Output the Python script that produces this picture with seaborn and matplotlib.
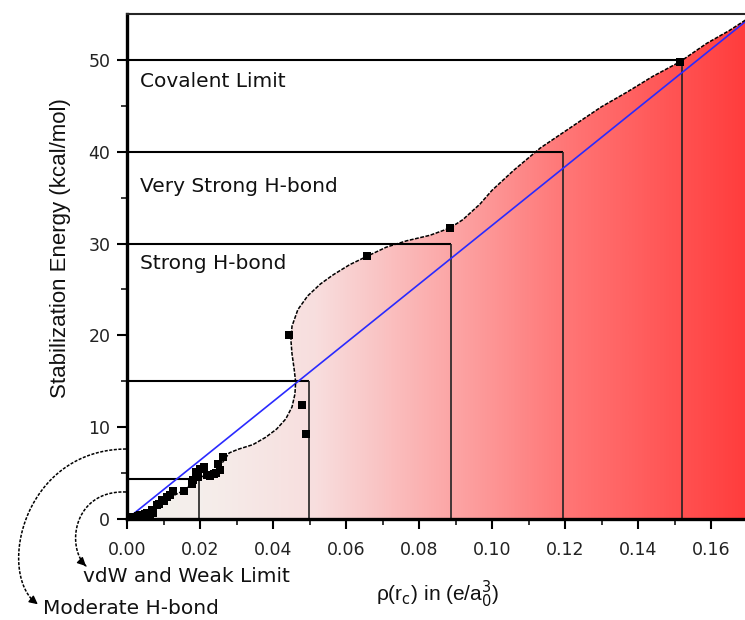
import numpy as np
import matplotlib
matplotlib.use("Agg")
import matplotlib.pyplot as plt
import seaborn as sns
import pandas as pd
from matplotlib.patches import Polygon, FancyArrowPatch
from matplotlib.colors import LinearSegmentedColormap
from matplotlib.lines import Line2D

# ---------------- data ----------------
pts_x = [0.0012, 0.0017, 0.0025, 0.0030, 0.0036, 0.0040, 0.0045, 0.0050, 0.0054, 0.0058,
         0.0062, 0.0068, 0.0072, 0.0081, 0.0088, 0.0095, 0.0102, 0.0109, 0.0118, 0.0127,
         0.0155, 0.0178, 0.0182, 0.0190, 0.0195, 0.0200, 0.0210, 0.0218, 0.0228, 0.0237,
         0.0245, 0.0255, 0.0250, 0.0264, 0.0444, 0.0479, 0.0490, 0.0657, 0.0885, 0.1515]
pts_y = [0.1, 0.2, 0.1, 0.3, 0.4, 0.2, 0.3, 0.5, 0.6, 0.4,
         0.3, 1.0, 0.7, 1.5, 1.6, 2.1, 2.0, 2.4, 2.6, 3.0,
         3.1, 3.8, 4.2, 5.1, 4.6, 5.5, 5.7, 4.8, 4.7, 4.9,
         5.0, 5.3, 6.0, 6.8, 20.0, 12.4, 9.3, 28.6, 31.7, 49.8]

curve_x = [0.0, 0.005, 0.010, 0.015, 0.020, 0.025, 0.028, 0.0305, 0.0345, 0.038, 0.041,
           0.0435, 0.0452, 0.0460, 0.0462, 0.0458, 0.0452, 0.0449, 0.0452, 0.0468, 0.0495,
           0.0530, 0.0565, 0.0610, 0.0657, 0.0710, 0.0766, 0.0830, 0.0885, 0.0920, 0.0967,
           0.1000, 0.1060, 0.1132, 0.1240, 0.1300, 0.1370, 0.1440, 0.1515, 0.1588, 0.1650,
           0.1720]
curve_y = [0.0, 0.6, 2.0, 3.0, 4.5, 5.5, 7.2, 7.6, 8.1, 8.9, 9.8,
           10.9, 12.2, 13.6, 14.9, 16.3, 18.0, 19.5, 21.0, 22.8, 24.3,
           25.6, 26.6, 27.7, 28.6, 29.6, 30.3, 30.9, 31.7, 32.6, 34.3,
           35.8, 38.0, 40.4, 43.3, 44.9, 46.5, 48.2, 49.8, 51.8, 53.2,
           55.0]

fit_x = [0.0, 0.172]
fit_y = [0.0, 55.0]

box_limits_x = [0.0197, 0.0499, 0.0888, 0.1195, 0.152]
box_limits_y = [4.4, 15.0, 30.0, 40.0, 50.0]

region_labels = ["Covalent Limit", "Very Strong H-bond", "Strong H-bond"]
region_label_y = [47.6, 36.2, 27.8]

x_ticks = [0.00, 0.02, 0.04, 0.06, 0.08, 0.10, 0.12, 0.14, 0.16]
y_ticks = [0, 10, 20, 30, 40, 50]

XMAX, YMAX = 0.1693, 55.0

# ---------------- figure ----------------
sns.set_style("ticks")
plt.rcParams["font.family"] = ["DejaVu Sans"]

W, H = 745, 620
fig = plt.figure(figsize=(W / 100, H / 100), dpi=100)
ax = fig.add_axes([127 / W, 101 / H, 618 / W, 505 / H])

# gradient fill under the curve
cmap = LinearSegmentedColormap.from_list(
    "redgrad",
    [(0.00, (242/255, 241/255, 237/255)),
     (0.12, (245/255, 238/255, 235/255)),
     (0.30, (248/255, 222/255, 222/255)),
     (0.52, (252/255, 165/255, 165/255)),
     (0.70, (255/255, 118/255, 118/255)),
     (0.89, (255/255, 80/255, 80/255)),
     (1.00, (255/255, 58/255, 58/255))])
grad = np.linspace(0, 1, 512).reshape(1, -1)
im = ax.imshow(grad, extent=[0, 0.172, 0, YMAX], aspect="auto", cmap=cmap,
               origin="lower", zorder=0, interpolation="bilinear")
poly_xy = np.column_stack([curve_x + [curve_x[-1], 0.0], curve_y + [0.0, 0.0]])
clip = Polygon(poly_xy, closed=True, transform=ax.transData, facecolor="none", edgecolor="none")
ax.add_patch(clip)
im.set_clip_path(clip)

# region boxes
for bx, by in zip(box_limits_x, box_limits_y):
    ax.hlines(by, 0, bx, color="black", lw=1.5, zorder=2)
    ax.vlines(bx, 0, by, color="#222222", lw=1.2, zorder=2)

# fitted line
sns.lineplot(x=fit_x, y=fit_y, ax=ax, color="#2a2aff", lw=1.2, zorder=3)

# boundary curve
df_curve = pd.DataFrame({"x": curve_x, "y": curve_y})
sns.lineplot(data=df_curve, x="x", y="y", ax=ax, sort=False, estimator=None,
             color="black", lw=1.1, linestyle=(0, (2.5, 1)), zorder=3)

# data points
sns.scatterplot(x=pts_x, y=pts_y, ax=ax, marker="s", s=34, color="black",
                linewidth=0, zorder=4)

for lab, ly in zip(region_labels, region_label_y):
    ax.text(0.0036, ly, lab, fontsize=14.5, va="center", ha="left", color="#111111")

ax.set_xlim(0, XMAX)
ax.set_ylim(0, YMAX)
ax.set_xticks(x_ticks)
ax.set_xticklabels([f"{v:.2f}" for v in x_ticks])
ax.set_yticks(y_ticks)
ax.set_xticks(np.arange(0.01, 0.17, 0.02), minor=True)
ax.set_yticks(np.arange(5, 55, 10), minor=True)

for s in ["left", "bottom"]:
    ax.spines[s].set_linewidth(2.4)
    ax.spines[s].set_color("black")
ax.spines["top"].set_linewidth(1.5)
ax.spines["top"].set_visible(True)
ax.spines["right"].set_visible(False)

ax.tick_params(axis="both", which="major", length=7, width=1.5, labelsize=12.5,
               colors="black", direction="out")
ax.tick_params(axis="both", which="minor", length=4.5, width=1.3, direction="out")
ax.tick_params(axis="x", which="major", pad=9)
ax.tick_params(axis="y", which="major", pad=5)
for t in ax.get_xticklabels() + ax.get_yticklabels():
    t.set_color("#222222")

ax.set_ylabel("Stabilization Energy (kcal/mol)", fontsize=16,
              family=["Liberation Sans", "DejaVu Sans"], color="#111111")
ax.yaxis.set_label_coords(-0.09, 0.537)
ax.set_xlabel(r"ρ(r$_{\mathrm{c}}$) in (e/a$_{\mathrm{0}}^{\mathrm{3}}$)", fontsize=15,
              family=["Liberation Sans", "DejaVu Sans"], color="#111111")
ax.xaxis.set_label_coords(0.502, -0.118)

# curved annotation arrows (figure pixel geometry, y measured from top)
def bez(p0, p1, p2, p3, n=80):
    t = np.linspace(0, 1, n)[:, None]
    p0, p1, p2, p3 = map(np.array, (p0, p1, p2, p3))
    return (1 - t) ** 3 * p0 + 3 * (1 - t) ** 2 * t * p1 + 3 * (1 - t) * t ** 2 * p2 + t ** 3 * p3

def draw_curve(pts):
    xs = pts[:, 0] / W
    ys = 1 - pts[:, 1] / H
    fig.add_artist(Line2D(xs[:-3], ys[:-3], transform=fig.transFigure, color="black",
                          lw=1.1, linestyle=(0, (2, 1))))
    fig.add_artist(FancyArrowPatch(
        (xs[-6], ys[-6]), (xs[-1], ys[-1]), transform=fig.transFigure,
        arrowstyle="-|>,head_length=5,head_width=2.5", color="black", lw=1.0))

draw_curve(bez((126, 449), (20, 450), (-5, 580), (40, 606)))
draw_curve(bez((126, 492), (72, 490), (65, 550), (88, 568)))

fig.text(83 / W, 1 - 577 / H, "vdW and Weak Limit", fontsize=14.5, va="center", ha="left",
         color="#111111")
fig.text(43 / W, 1 - 608 / H, "Moderate H-bond", fontsize=14.5, va="center", ha="left",
         color="#111111")

fig.savefig("out.png", dpi=100)
